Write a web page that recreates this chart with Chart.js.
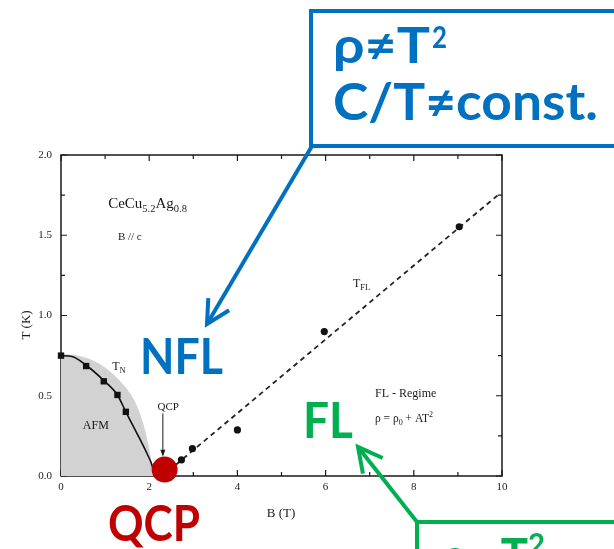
<!DOCTYPE html>
<html><head><meta charset="utf-8">
<script src="https://cdn.jsdelivr.net/npm/chart.js@4/dist/chart.umd.min.js"></script>
<style>html,body{margin:0;padding:0;background:#fff;overflow:hidden}canvas{display:block}</style>
</head><body>
<canvas id="c" width="614" height="549"></canvas>
<script>
// ---- data ----
const afmShadeB = [0, 0.4, 0.8, 1.2, 1.5, 1.7, 1.85, 1.97, 2.05, 2.09];
const afmShadeT = [0.76, 0.75, 0.71, 0.63, 0.54, 0.45, 0.34, 0.21, 0.09, 0.0];
const tnCurveB = [0, 0.25, 0.57, 0.97, 1.28, 1.47, 1.77, 1.95, 2.06, 2.12];
const tnCurveT = [0.75, 0.745, 0.69, 0.595, 0.505, 0.40, 0.24, 0.14, 0.07, 0.0];
const tnB = [0, 0.57, 0.97, 1.28, 1.47];
const tnT = [0.75, 0.685, 0.59, 0.505, 0.40];
const tflB = [2.73, 2.98, 4.0, 5.97, 9.03];
const tflT = [0.10, 0.17, 0.287, 0.90, 1.553];
const tflLineB = [2.3, 9.95];
const tflLineT = [0.0, 1.76];
const qcpB = [2.35];
const qcpT = [0.04];
const xTickValues = [0,1,2,3,4,5,6,7,8,9,10];
const xTickLabels = ['0','','2','','4','','6','','8','','10'];
const yTickValues = [0,0.25,0.5,0.75,1,1.25,1.5,1.75,2];
const yTickLabels = ['0.0','','0.5','','1.0','','1.5','','2.0'];

const pts = (xs, ys) => xs.map((x, i) => ({x, y: ys[i]}));
const SERIF = '"Liberation Serif", "Times New Roman", serif';
const SANS = 'Lato, "Open Sans", sans-serif';

function rich(ctx, parts, x, y, align) {
  let total = 0;
  parts.forEach(p => { ctx.font = p[1] + 'px ' + SERIF; total += ctx.measureText(p[0]).width; });
  let cx = align === 'center' ? x - total / 2 : x;
  parts.forEach(p => {
    ctx.font = p[1] + 'px ' + SERIF;
    ctx.fillText(p[0], cx, y + (p[2] || 0));
    cx += ctx.measureText(p[0]).width;
  });
}
function fitText(ctx, text, x, y, w, font, color) {
  ctx.save();
  ctx.font = font;
  const m = ctx.measureText(text).width;
  ctx.translate(x, y);
  ctx.scale(w / m, 1);
  ctx.fillStyle = color;
  ctx.textAlign = 'left';
  ctx.textBaseline = 'alphabetic';
  ctx.fillText(text, 0, 0);
  ctx.restore();
}
function arrowLine(ctx, x1, y1, x2, y2, color, lw, head) {
  ctx.save();
  ctx.strokeStyle = color; ctx.lineWidth = lw; ctx.lineCap = 'butt'; ctx.lineJoin = 'miter';
  ctx.beginPath(); ctx.moveTo(x1, y1); ctx.lineTo(x2, y2); ctx.stroke();
  const a = Math.atan2(y2 - y1, x2 - x1);
  const s = Math.PI / 6.5;
  ctx.beginPath();
  ctx.moveTo(x2 - head * Math.cos(a - s), y2 - head * Math.sin(a - s));
  ctx.lineTo(x2, y2);
  ctx.lineTo(x2 - head * Math.cos(a + s), y2 - head * Math.sin(a + s));
  ctx.stroke();
  ctx.restore();
}

const framePlugin = {
  id: 'frame',
  beforeDatasetsDraw(chart) {
    const {ctx, chartArea: a, scales: {x, y}} = chart;
    ctx.save();
    ctx.strokeStyle = '#1a1a1a';
    ctx.lineWidth = 1.5;
    ctx.strokeRect(a.left, a.top, a.right - a.left, a.bottom - a.top);
    ctx.lineWidth = 1.2;
    ctx.beginPath();
    xTickValues.forEach((v, i) => {
      const px = x.getPixelForValue(v);
      const L = xTickLabels[i] ? 6 : 4;
      ctx.moveTo(px, a.bottom); ctx.lineTo(px, a.bottom - L);
      ctx.moveTo(px, a.top); ctx.lineTo(px, a.top + L);
    });
    yTickValues.forEach((v, i) => {
      const py = y.getPixelForValue(v);
      const L = yTickLabels[i] ? 6 : 4;
      ctx.moveTo(a.left, py); ctx.lineTo(a.left + L, py);
      ctx.moveTo(a.right, py); ctx.lineTo(a.right - L, py);
    });
    ctx.stroke();
    ctx.restore();
  },
  afterDatasetsDraw(chart) {
    const {ctx, scales: {x, y}} = chart;
    const X = v => x.getPixelForValue(v), Y = v => y.getPixelForValue(v);
    ctx.save();
    ctx.fillStyle = '#1a1a1a';
    ctx.textBaseline = 'alphabetic';
    ctx.textAlign = 'left';
    rich(ctx, [['CeCu', 15], ['5.2', 10.5, 4], ['Ag', 15], ['0.8', 10.5, 4]], X(1.07), Y(1.67));
    rich(ctx, [['B // c', 11]], X(1.29), Y(1.47));
    rich(ctx, [['T', 12], ['N', 8.5, 3]], X(1.16), Y(0.66));
    rich(ctx, [['AFM', 12]], X(0.79), Y(0.29), 'center');
    rich(ctx, [['QCP', 11]], X(2.43), Y(0.41), 'center');
    rich(ctx, [['T', 12], ['FL', 8.5, 3]], X(6.62), Y(1.18));
    rich(ctx, [['FL - Regime', 12]], X(7.12), Y(0.49));
    rich(ctx, [['ρ = ρ', 11.5], ['0', 8, 3], [' + AT', 11.5], ['2', 8, -5]], X(7.12), Y(0.335));
    ctx.font = '13px ' + SERIF;
    ctx.textAlign = 'center';
    ctx.fillText('B (T)', 281, 517);
    ctx.save();
    ctx.translate(30, 325);
    ctx.rotate(-Math.PI / 2);
    ctx.fillText('T (K)', 0, 0);
    ctx.restore();
    ctx.strokeStyle = '#1a1a1a'; ctx.lineWidth = 1;
    const ax = X(2.31), ay1 = Y(0.39), ay2 = Y(0.12);
    ctx.beginPath(); ctx.moveTo(ax, ay1); ctx.lineTo(ax, ay2 - 5); ctx.stroke();
    ctx.beginPath(); ctx.moveTo(ax, ay2); ctx.lineTo(ax - 2.5, ay2 - 7); ctx.lineTo(ax + 2.5, ay2 - 7); ctx.closePath(); ctx.fill();
    ctx.restore();
  },
  afterDraw(chart) {
    const ctx = chart.ctx;
    const BLUE = '#0070C0', GREEN = '#00B050', RED = '#C00000';
    ctx.save();
    ctx.strokeStyle = BLUE; ctx.lineWidth = 4;
    ctx.strokeRect(311, 11, 340, 135);
    arrowLine(ctx, 312, 146, 207, 324, BLUE, 4, 26);
    fitText(ctx, 'ρ≠T', 333, 63, 97, 'bold 50px ' + SANS, BLUE);
    fitText(ctx, '2', 432, 48, 15, 'bold 30px ' + SANS, BLUE);
    fitText(ctx, 'C/T≠const.', 333, 120, 265, 'bold 52px ' + SANS, BLUE);
    fitText(ctx, 'NFL', 140, 374, 83, 'bold 50px ' + SANS, BLUE);
    ctx.strokeStyle = GREEN; ctx.lineWidth = 4;
    ctx.strokeRect(417, 522, 300, 100);
    arrowLine(ctx, 417, 522, 358, 447, GREEN, 4, 27);
    fitText(ctx, 'FL', 303, 438, 50, 'bold 50px ' + SANS, GREEN);
    fitText(ctx, 'ρ∝T', 442, 574, 86, 'bold 50px ' + SANS, GREEN);
    fitText(ctx, '2', 528, 555, 17, 'bold 30px ' + SANS, GREEN);
    fitText(ctx, 'QCP', 108, 541, 92, 'bold 50px ' + SANS, RED);
    ctx.restore();
  }
};

new Chart(document.getElementById('c').getContext('2d'), {
  type: 'scatter',
  data: {
    datasets: [
      {label: 'QCP', data: pts(qcpB, qcpT), pointRadius: 13, pointHoverRadius: 13, backgroundColor: '#C00000', borderColor: '#C00000', borderWidth: 0, showLine: false, order: 0, clip: false},
      {label: 'T_FL data', data: pts(tflB, tflT), pointRadius: 3.6, backgroundColor: '#111', borderColor: '#111', borderWidth: 0, showLine: false, order: 1},
      {label: 'T_N data', data: pts(tnB, tnT), pointStyle: 'rect', pointRadius: 4.5, backgroundColor: '#111', borderColor: '#111', borderWidth: 0, showLine: false, order: 1, clip: false},
      {label: 'T_FL', data: pts(tflLineB, tflLineT), showLine: true, borderDash: [5, 4], borderColor: '#222', borderWidth: 1.8, pointRadius: 0, order: 2},
      {label: 'T_N', data: pts(tnCurveB, tnCurveT), showLine: true, borderColor: '#111', borderWidth: 1.6, pointRadius: 0, cubicInterpolationMode: 'monotone', order: 2},
      {label: 'AFM', data: pts(afmShadeB, afmShadeT), showLine: true, fill: 'origin', backgroundColor: '#d2d2d2', borderColor: 'rgba(0,0,0,0)', borderWidth: 0, pointRadius: 0, cubicInterpolationMode: 'monotone', order: 3}
    ]
  },
  options: {
    responsive: false,
    animation: false,
    devicePixelRatio: 1,
    events: [],
    layout: {padding: {top: 155, right: 112, left: 0, bottom: 0}},
    plugins: {legend: {display: false}, tooltip: {enabled: false}},
    scales: {
      x: {
        type: 'linear', min: 0, max: 10, position: 'bottom',
        afterFit(s) { s.height = 73; },
        afterBuildTicks(s) { s.ticks = xTickValues.map(v => ({value: v})); },
        ticks: {autoSkip: false, maxRotation: 0, padding: 5, color: '#222',
          font: {family: SERIF, size: 11}, callback: (v, i) => xTickLabels[i]},
        grid: {display: false, drawTicks: false}, border: {display: false}
      },
      y: {
        type: 'linear', min: 0, max: 2, position: 'left',
        afterFit(s) { s.width = 61; },
        afterBuildTicks(s) { s.ticks = yTickValues.map(v => ({value: v})); },
        ticks: {autoSkip: false, padding: 9, color: '#222',
          font: {family: SERIF, size: 11}, callback: (v, i) => yTickLabels[i]},
        grid: {display: false, drawTicks: false}, border: {display: false}
      }
    }
  },
  plugins: [framePlugin]
});
</script>
</body></html>
